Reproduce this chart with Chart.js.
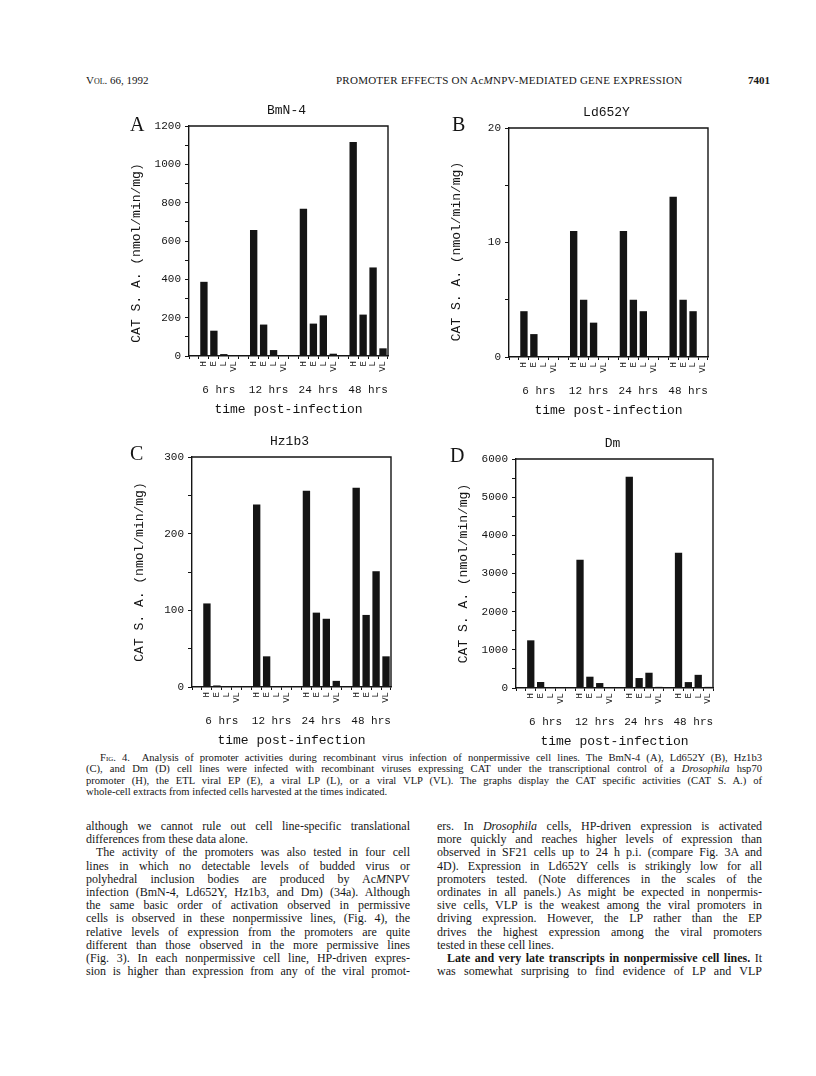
<!DOCTYPE html>
<html>
<head>
<meta charset="utf-8">
<script src="https://cdn.jsdelivr.net/npm/chart.js@4.4.1/dist/chart.umd.min.js"></script>
<style>
  html, body { margin: 0; padding: 0; background: #fff; }
  #page { position: relative; width: 816px; height: 1076px; overflow: hidden; background: #fff;
          color: #161616; font-family: "Liberation Serif", "DejaVu Serif", serif; }
  canvas { position: absolute; }
  .hdr { position: absolute; top: 74px; font-size: 11px; white-space: nowrap; }
  .ln { position: absolute; text-align: justify; text-align-last: justify; white-space: normal; }
  .end { text-align-last: left; }
  .cap { font-size: 10.6px; }
  .body { font-size: 12px; }
  .sc { font-variant: small-caps; }
</style>
</head>
<body>
<div id="page">
  <div class="hdr sc" style="left:86px;">Vol. 66, 1992</div>
  <div class="hdr" style="left:336px;letter-spacing:0.25px;">PROMOTER EFFECTS ON Ac<i>M</i>NPV-MEDIATED GENE EXPRESSION</div>
  <div class="hdr" style="left:748px;font-weight:bold;">7401</div>
  <div id="captionBox"></div>
  <div id="textBox"></div>
</div>

<script>
"use strict";

// ==========================================
// Data
// ==========================================
const timePoints = ['6 hrs', '12 hrs', '24 hrs', '48 hrs'];
const promoters = ['H', 'E', 'L', 'VL'];

// CAT S. A. (nmol/min/mg), ordered time by time: H, E, L, VL
const bmn4Activity   = [387, 132, 10, 0,   657, 164, 31, 0,   768, 169, 212, 12,   1117, 216, 462, 40];
const ld652yActivity = [4, 2, 0, 0,        11, 5, 3, 0,       11, 5, 4, 0,         14, 5, 4, 0];
const hz1b3Activity  = [109, 2, 0, 0,      238, 40, 0, 0,     256, 97, 89, 8,      260, 94, 151, 40];
const dmActivity     = [1249, 157, 0, 0,   3362, 296, 130, 0, 5537, 261, 400, 30,  3546, 155, 345, 30];

const panelNames   = ['BmN-4', 'Ld652Y', 'Hz1b3', 'Dm'];
const panelLetters = ['A', 'B', 'C', 'D'];
const yMaxes       = [1200, 20, 300, 6000];
const yMinorSteps  = [100, 5, 50, 500];
const yLabelSteps  = [200, 10, 100, 1000];

const MONO = '"Liberation Mono", "DejaVu Sans Mono", monospace';
const INK = '#141414';

// one empty slot before every group of four promoters
function slotLabels() {
    const out = [];
    timePoints.forEach(function() {
        out.push('');
        promoters.forEach(p => out.push(p));
    });
    return out;
}
function slotValues(values) {
    const out = [];
    timePoints.forEach(function(t, i) {
        out.push(null);
        for (let j = 0; j < promoters.length; j++) out.push(values[i * promoters.length + j]);
    });
    return out;
}

// ==========================================
// Frame, titles and group labels
// ==========================================
const panelDecor = {
    id: 'panelDecor',
    afterDraw(chart, args, opts) {
        const ctx = chart.ctx;
        const a = chart.chartArea;
        const x = chart.scales.x;
        ctx.save();
        ctx.strokeStyle = INK;
        ctx.lineWidth = 1.4;
        ctx.beginPath();
        ctx.moveTo(a.left, a.top);
        ctx.lineTo(a.right, a.top);
        ctx.lineTo(a.right, a.bottom);
        ctx.stroke();

        ctx.fillStyle = INK;
        ctx.textAlign = 'center';
        ctx.textBaseline = 'middle';
        ctx.font = '13px ' + MONO;
        ctx.fillText(opts.name, (a.left + a.right) / 2 - 2, a.top - 15);

        ctx.font = '20px "Liberation Serif", serif';
        ctx.textAlign = 'left';
        ctx.textBaseline = 'alphabetic';
        ctx.fillText(opts.letter, a.left + opts.letterDx, a.top + opts.letterDy);

        // y title
        ctx.save();
        ctx.translate(a.left - 52, (a.top + a.bottom) / 2 + opts.yTitleDy);
        ctx.rotate(-Math.PI / 2);
        ctx.textAlign = 'center';
        ctx.textBaseline = 'middle';
        ctx.font = '13px ' + MONO;
        ctx.fillText('CAT S. A. (nmol/min/mg)', 0, 0);
        ctx.restore();

        // group labels under each set of four bars
        ctx.textAlign = 'center';
        ctx.textBaseline = 'middle';
        ctx.font = '11px ' + MONO;
        timePoints.forEach(function(t, i) {
            const first = i * 5 + 1, last = i * 5 + 4;
            const cx = (x.getPixelForValue(first) + x.getPixelForValue(last)) / 2;
            ctx.fillText(t, cx, a.bottom + 34);
        });
        ctx.font = '13px ' + MONO;
        ctx.fillText('time post-infection', (a.left + a.right) / 2, a.bottom + 54);
        ctx.restore();
    }
};

// ==========================================
// Panels
// ==========================================
const panels = [
    { values: bmn4Activity,   left: 110, top: 95,  w: 290, h: 325, padTop: 31, letterDx: -59, letterDy: 5, yTitleDy: 12 },
    { values: ld652yActivity, left: 430, top: 95,  w: 290, h: 326, padTop: 33, letterDx: -57, letterDy: 3, yTitleDy: 9 },
    { values: hz1b3Activity,  left: 113, top: 425, w: 290, h: 326, padTop: 32, letterDx: -62, letterDy: 3, yTitleDy: 0 },
    { values: dmActivity,     left: 437, top: 425, w: 288, h: 327, padTop: 34, letterDx: -66, letterDy: 3, yTitleDy: 0 }
];

const page = document.getElementById('page');
panels.forEach(function(p, i) {
    const cv = document.createElement('canvas');
    cv.width = p.w;
    cv.height = p.h;
    cv.style.left = p.left + 'px';
    cv.style.top = p.top + 'px';
    cv.style.width = p.w + 'px';
    cv.style.height = p.h + 'px';
    page.appendChild(cv);

    const labelStep = yLabelSteps[i];
    new Chart(cv, {
        type: 'bar',
        data: {
            labels: slotLabels(),
            datasets: [{
                data: slotValues(p.values),
                backgroundColor: INK,
                borderWidth: 0,
                categoryPercentage: 1,
                barPercentage: 0.74
            }]
        },
        options: {
            responsive: false,
            animation: false,
            devicePixelRatio: 1,
            layout: { padding: { top: p.padTop, right: 12, bottom: 0, left: 0 } },
            plugins: {
                legend: { display: false },
                tooltip: { enabled: false },
                panelDecor: {
                    name: panelNames[i],
                    letter: panelLetters[i],
                    letterDx: p.letterDx,
                    letterDy: p.letterDy,
                    yTitleDy: p.yTitleDy
                }
            },
            scales: {
                x: {
                    grid: { drawOnChartArea: false, tickLength: 3, color: INK, lineWidth: 1 },
                    border: { color: INK, width: 1.4 },
                    ticks: {
                        autoSkip: false,
                        minRotation: 90,
                        maxRotation: 90,
                        padding: 2,
                        color: INK,
                        font: { family: MONO, size: 9 }
                    },
                    afterFit: function(s) { s.height = 64; }
                },
                y: {
                    min: 0,
                    max: yMaxes[i],
                    grid: { drawOnChartArea: false, tickLength: 4, color: INK, lineWidth: 1 },
                    border: { color: INK, width: 1.4 },
                    ticks: {
                        stepSize: yMinorSteps[i],
                        padding: 4,
                        color: INK,
                        font: { family: MONO, size: 11 },
                        callback: function(v) { return v % labelStep === 0 ? v : ''; }
                    },
                    afterFit: function(s) { s.width = 79; }
                }
            }
        },
        plugins: [panelDecor]
    });
});

// ==========================================
// Caption and body text, one div per printed line
// ==========================================
const captionLines = [
    ['<span class="sc">Fig.</span> 4.&nbsp; Analysis of promoter activities during recombinant virus infection of nonpermissive cell lines. The BmN-4 (A), Ld652Y (B), Hz1b3', 14, false],
    ['(C), and Dm (D) cell lines were infected with recombinant viruses expressing CAT under the transcriptional control of a <i>Drosophila</i> hsp70', 0, false],
    ['promoter (H), the ETL viral EP (E), a viral LP (L), or a viral VLP (VL). The graphs display the CAT specific activities (CAT S. A.) of', 0, false],
    ['whole-cell extracts from infected cells harvested at the times indicated.', 0, true]
];
const leftLines = [
    ['although we cannot rule out cell line-specific translational', 0, false],
    ['differences from these data alone.', 0, true],
    ['The activity of the promoters was also tested in four cell', 10, false],
    ['lines in which no detectable levels of budded virus or', 0, false],
    ['polyhedral inclusion bodies are produced by Ac<i>M</i>NPV', 0, false],
    ['infection (BmN-4, Ld652Y, Hz1b3, and Dm) (34a). Although', 0, false],
    ['the same basic order of activation observed in permissive', 0, false],
    ['cells is observed in these nonpermissive lines, (Fig. 4), the', 0, false],
    ['relative levels of expression from the promoters are quite', 0, false],
    ['different than those observed in the more permissive lines', 0, false],
    ['(Fig. 3). In each nonpermissive cell line, HP-driven expres-', 0, false],
    ['sion is higher than expression from any of the viral promot-', 0, false]
];
const rightLines = [
    ['ers. In <i>Drosophila</i> cells, HP-driven expression is activated', 0, false],
    ['more quickly and reaches higher levels of expression than', 0, false],
    ['observed in SF21 cells up to 24 h p.i. (compare Fig. 3A and', 0, false],
    ['4D). Expression in Ld652Y cells is strikingly low for all', 0, false],
    ['promoters tested. (Note differences in the scales of the', 0, false],
    ['ordinates in all panels.) As might be expected in nonpermis-', 0, false],
    ['sive cells, VLP is the weakest among the viral promoters in', 0, false],
    ['driving expression. However, the LP rather than the EP', 0, false],
    ['drives the highest expression among the viral promoters', 0, false],
    ['tested in these cell lines.', 0, true],
    ['<b>Late and very late transcripts in nonpermissive cell lines.</b> It', 10, false],
    ['was somewhat surprising to find evidence of LP and VLP', 0, false]
];

function placeLines(lines, cls, left, width, top, step) {
    lines.forEach(function(l, k) {
        const d = document.createElement('div');
        d.className = 'ln ' + cls + (l[2] ? ' end' : '');
        d.innerHTML = l[0];
        d.style.left = (left + l[1]) + 'px';
        d.style.width = (width - l[1]) + 'px';
        d.style.top = (top + k * step) + 'px';
        page.appendChild(d);
        // shrink a line that would wrap
        let fs = parseFloat(getComputedStyle(d).fontSize);
        while (d.offsetHeight > step * 1.5 && fs > 8) {
            fs -= 0.2;
            d.style.fontSize = fs + 'px';
        }
    });
}
placeLines(captionLines, 'cap', 86, 676, 752, 11.3);
placeLines(leftLines, 'body', 86, 324, 819, 13.2);
placeLines(rightLines, 'body', 437, 325, 819, 13.2);
</script>
</body>
</html>
